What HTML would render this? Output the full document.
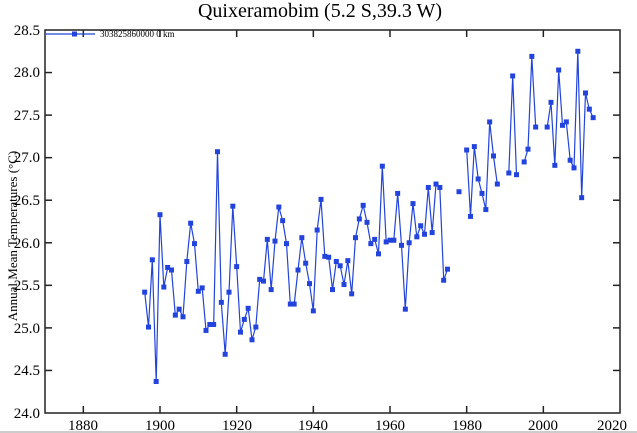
<!DOCTYPE html>
<html><head><meta charset="utf-8"><style>
html,body{margin:0;padding:0;background:#fff;}
svg{display:block;font-family:"Liberation Serif",serif;}
</style></head><body>
<svg id="s" width="637" height="433" viewBox="0 0 637 433" xmlns="http://www.w3.org/2000/svg">
<rect width="637" height="433" fill="#fff"/>
<text x="320" y="17" font-size="20" text-anchor="middle">Quixeramobim (5.2 S,39.3 W)</text>
<text transform="translate(17,236) rotate(-90)" font-size="13" text-anchor="middle">Annual Mean Temperatures (°C)</text>
<g font-size="15" text-anchor="end">
<text x="40" y="418">24.0</text><text x="40" y="375">24.5</text><text x="40" y="333">25.0</text>
<text x="40" y="290">25.5</text><text x="40" y="248">26.0</text><text x="40" y="205">26.5</text>
<text x="40" y="162">27.0</text><text x="40" y="120">27.5</text><text x="40" y="77">28.0</text>
<text x="40" y="35">28.5</text>
</g>
<g font-size="15" text-anchor="middle">
<text x="83" y="430">1880</text><text x="160" y="430">1900</text><text x="237" y="430">1920</text>
<text x="313" y="430">1940</text><text x="390" y="430">1960</text><text x="467" y="430">1980</text>
<text x="543" y="430">2000</text><text x="612" y="430">2020</text>
</g>
<g id="ax" stroke="#222" stroke-width="1.5" fill="none">
<rect x="45" y="30" width="575" height="383"/>
</g>
<line x1="46" y1="34" x2="95" y2="34" stroke="#2244dd" stroke-width="1.2"/>
<rect x="72" y="31.5" width="5" height="5" fill="#2244dd"/>
<text x="100" y="37" font-size="9">303825860000  0 km</text>
<g id="d"></g>
<line x1="0" y1="432" x2="637" y2="432" stroke="#999"/>
</svg>
<script>
var data={1896:25.42,1897:25.01,1898:25.80,1899:24.37,1900:26.33,1901:25.48,1902:25.71,1903:25.68,1904:25.15,1905:25.22,1906:25.13,1907:25.78,1908:26.23,1909:25.99,1910:25.43,1911:25.47,1912:24.97,1913:25.04,1914:25.04,1915:27.07,1916:25.30,1917:24.69,1918:25.42,1919:26.43,1920:25.72,1921:24.95,1922:25.10,1923:25.23,1924:24.86,1925:25.01,1926:25.57,1927:25.55,1928:26.04,1929:25.45,1930:26.02,1931:26.42,1932:26.26,1933:25.99,1934:25.28,1935:25.28,1936:25.68,1937:26.06,1938:25.76,1939:25.52,1940:25.20,1941:26.15,1942:26.51,1943:25.84,1944:25.83,1945:25.45,1946:25.78,1947:25.73,1948:25.51,1949:25.79,1950:25.40,1951:26.06,1952:26.28,1953:26.44,1954:26.24,1955:25.99,1956:26.04,1957:25.87,1958:26.90,1959:26.01,1960:26.03,1961:26.03,1962:26.58,1963:25.97,1964:25.22,1965:26.00,1966:26.46,1967:26.07,1968:26.20,1969:26.10,1970:26.65,1971:26.12,1972:26.69,1973:26.65,1974:25.56,1975:25.69,1978:26.60,1980:27.09,1981:26.31,1982:27.13,1983:26.75,1984:26.58,1985:26.39,1986:27.42,1987:27.02,1988:26.69,1991:26.82,1992:27.96,1993:26.80,1995:26.95,1996:27.10,1997:28.19,1998:27.36,2001:27.36,2002:27.65,2003:26.91,2004:28.03,2005:27.38,2006:27.42,2007:26.97,2008:26.88,2009:28.25,2010:26.53,2011:27.76,2012:27.57,2013:27.47};
var NS="http://www.w3.org/2000/svg";
function X(y){return 45+(y-1870)*575/150;}
function Y(v){return 413-(v-24)*383/4.5;}
var ax=document.getElementById('ax');
function ln(p,x1,y1,x2,y2){var l=document.createElementNS(NS,'line');l.setAttribute('x1',x1);l.setAttribute('y1',y1);l.setAttribute('x2',x2);l.setAttribute('y2',y2);p.appendChild(l);}
for(var yr=1880;yr<=2010;yr+=20){var x=X(yr);ln(ax,x,413,x,406);ln(ax,x,30,x,37);}
for(var v=24.5;v<28.5;v+=0.5){var y=Y(v);ln(ax,45,y,52,y);ln(ax,620,y,613,y);}
var g=document.getElementById('d');var keys=Object.keys(data).map(Number).sort(function(a,b){return a-b});
var seg=[];function flush(){if(seg.length>1){var p=document.createElementNS(NS,'polyline');p.setAttribute('points',seg.join(' '));p.setAttribute('fill','none');p.setAttribute('stroke','#2244dd');p.setAttribute('stroke-width','1.2');g.appendChild(p);}seg=[];}
var prev=null;
keys.forEach(function(k){if(prev!==null&&k-prev>1)flush();seg.push(X(k).toFixed(1)+','+Y(data[k]).toFixed(1));prev=k;});flush();
keys.forEach(function(k){var r=document.createElementNS(NS,'rect');r.setAttribute('x',X(k)-2.5);r.setAttribute('y',Y(data[k])-2.5);r.setAttribute('width',5);r.setAttribute('height',5);r.setAttribute('fill','#2244dd');g.appendChild(r);});
</script>
</body></html>
